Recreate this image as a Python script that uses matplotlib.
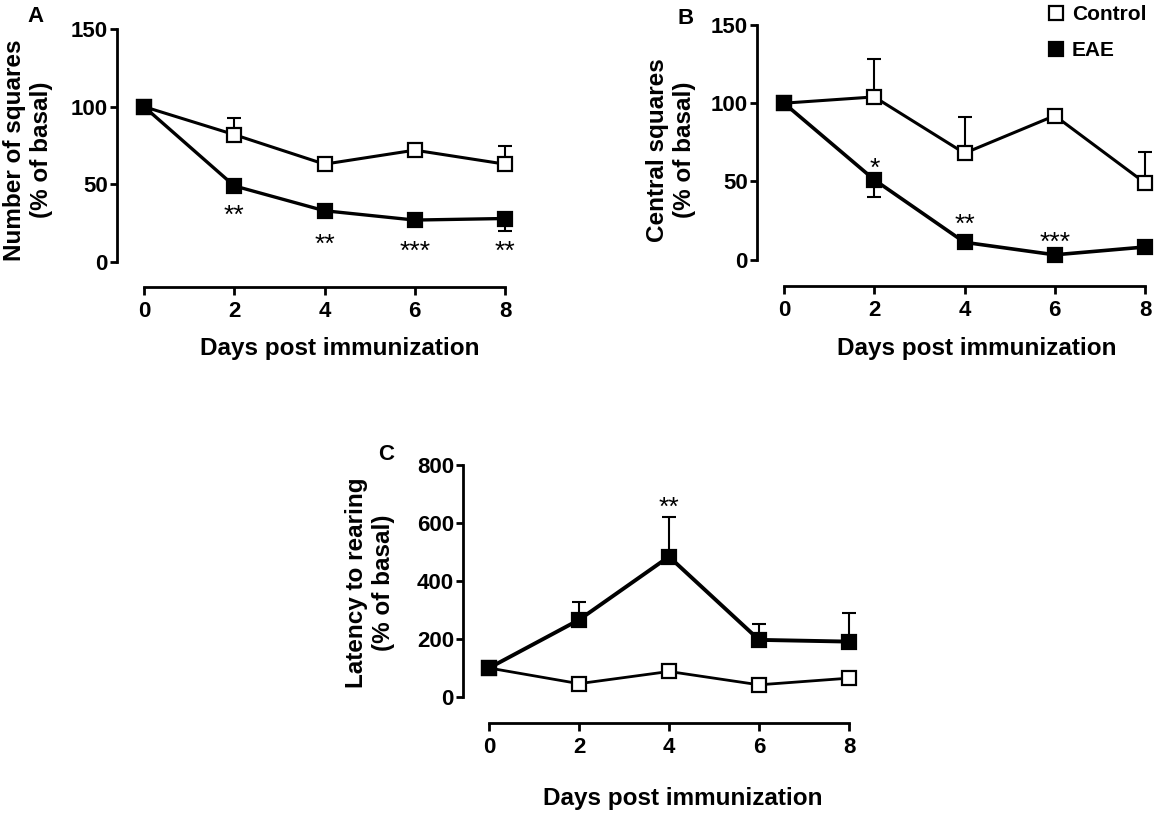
import matplotlib
matplotlib.use('Agg')
import matplotlib.pyplot as plt
from matplotlib.lines import Line2D

plt.rcParams['font.family'] = ['Liberation Sans', 'DejaVu Sans']
plt.rcParams['font.weight'] = 'bold'

# ---------------- data ----------------
days = [0, 2, 4, 6, 8]
day_ticks = [0, 2, 4, 6, 8]

# Panel A: Number of squares (% of basal)
a_ctrl = [100, 82, 63, 72, 63]
a_ctrl_err_lo = [0, 0, 0, 0, 0]
a_ctrl_err_hi = [0, 11, 3, 3, 12]
a_eae = [100, 49, 33, 27, 28]
a_eae_err_lo = [0, 3, 3, 2, 8]
a_eae_err_hi = [0, 0, 0, 0, 0]
a_yticks = [0, 50, 100, 150]
a_stars = [(2, 35, '**'), (4, 16, '**'), (6, 12, '***'), (8, 12, '**')]

# Panel B: Central squares (% of basal)
b_ctrl = [100, 104, 68, 92, 49]
b_ctrl_err_lo = [0, 0, 0, 0, 0]
b_ctrl_err_hi = [0, 24, 23, 2, 20]
b_eae = [100, 51, 11, 3, 8]
b_eae_err_lo = [0, 11, 2, 1, 3]
b_eae_err_hi = [0, 0, 0, 0, 0]
b_yticks = [0, 50, 100, 150]
b_stars = [(2, 63, '*'), (4, 27, '**'), (6, 16, '***')]

# Panel C: Latency to rearing (% of basal)
c_ctrl = [100, 46, 88, 42, 65]
c_ctrl_err_lo = [0, 0, 0, 0, 0]
c_ctrl_err_hi = [0, 4, 4, 4, 4]
c_eae = [100, 266, 484, 197, 191]
c_eae_err_lo = [0, 0, 0, 0, 0]
c_eae_err_hi = [0, 63, 136, 55, 98]
c_yticks = [0, 200, 400, 600, 800]
c_stars = [(4, 680, '**')]

xlabel_text = 'Days post immunization'
series_labels = ['Control', 'EAE']

# ---------------- layout helpers ----------------
W, H = 1158, 818
fig = plt.figure(figsize=(W / 100, H / 100), dpi=100)
PT = 0.72  # points per pixel at 100 dpi

TICK_FS = 16
LABEL_FS = 17.5
STAR_FS = 19
MS = 10.5


def make_axes(L, x0, x8, ytop, ybot, ymax, xaxis_y, yticks, ylabel,
              ylab_px, xlab_px):
    R = x8 + 12
    ax = fig.add_axes([L / W, 1 - ybot / H, (R - L) / W, (ybot - ytop) / H])
    ppu = (x8 - x0) / 8.0
    ax.set_xlim(-(x0 - L) / ppu, 8 + 12 / ppu)
    ax.set_ylim(0, ymax)
    ax.set_facecolor('none')
    for s in ['top', 'right']:
        ax.spines[s].set_visible(False)
    for s in ['left', 'bottom']:
        ax.spines[s].set_linewidth(2.0)
    ax.spines['left'].set_bounds(0, ymax)
    ax.spines['bottom'].set_bounds(0, 8)
    ax.spines['bottom'].set_position(('outward', (xaxis_y - ybot) * PT))
    ax.set_xticks(day_ticks)
    ax.set_yticks(yticks)
    ax.tick_params(axis='y', direction='out', length=5, width=2.0,
                   labelsize=TICK_FS, pad=1.5)
    ax.tick_params(axis='x', direction='out', length=6, width=2.0,
                   labelsize=TICK_FS, pad=4)
    ax.set_xlabel(xlabel_text, fontsize=LABEL_FS, fontweight='bold', va='center')
    ax.xaxis.set_label_coords((xlab_px[0] - L) / (R - L),
                              (ybot - xlab_px[1]) / (ybot - ytop))
    ax.set_ylabel(ylabel, fontsize=LABEL_FS, fontweight='bold', va='center',
                  linespacing=1.2)
    ax.yaxis.set_label_coords((ylab_px[0] - L) / (R - L),
                              (ybot - ylab_px[1]) / (ybot - ytop))
    return ax


def draw(ax, ctrl, c_lo, c_hi, eae, e_lo, e_hi, stars, lw_c, lw_e):
    ax.errorbar(days, ctrl, yerr=[c_lo, c_hi], fmt='none', ecolor='black',
                elinewidth=1.5, capsize=5, capthick=1.5, zorder=2, clip_on=False)
    ax.errorbar(days, eae, yerr=[e_lo, e_hi], fmt='none', ecolor='black',
                elinewidth=1.5, capsize=5, capthick=1.5, zorder=2, clip_on=False)
    ax.plot(days, ctrl, color='black', lw=lw_c, marker='s', ms=MS,
            mfc='white', mec='black', mew=1.6, zorder=3, clip_on=False)
    ax.plot(days, eae, color='black', lw=lw_e, marker='s', ms=MS,
            mfc='black', mec='black', mew=1.6, zorder=4, clip_on=False)
    for d, y, s in stars:
        ax.annotate(s, xy=(d, y), xytext=(0, -0.57 * STAR_FS),
                    textcoords='offset points', ha='center', va='baseline',
                    fontsize=STAR_FS, fontweight='normal', annotation_clip=False)


axA = make_axes(117, 144, 505, 29, 262, 150, 287, a_yticks,
                'Number of squares\n(% of basal)', (28, 150), (339.5, 348))
draw(axA, a_ctrl, a_ctrl_err_lo, a_ctrl_err_hi, a_eae, a_eae_err_lo,
     a_eae_err_hi, a_stars, 2.2, 2.4)

axB = make_axes(757, 784, 1145, 25, 259.5, 150, 286, b_yticks,
                'Central squares\n(% of basal)', (671, 150), (977, 348))
draw(axB, b_ctrl, b_ctrl_err_lo, b_ctrl_err_hi, b_eae, b_eae_err_lo,
     b_eae_err_hi, b_stars, 2.2, 2.6)

axC = make_axes(463, 489, 849, 465, 697, 800, 723, c_yticks,
                'Latency to rearing\n(% of basal)', (370, 583), (683, 799))
draw(axC, c_ctrl, c_ctrl_err_lo, c_ctrl_err_hi, c_eae, c_eae_err_lo,
     c_eae_err_hi, c_stars, 2.0, 2.8)

# panel letters
for txt, (px, py) in zip(['A', 'B', 'C'], [(36, 17), (686, 19), (386, 455)]):
    fig.text(px / W, 1 - py / H, txt, ha='center', va='center',
             fontsize=16, fontweight='bold')

# legend
handles = [Line2D([], [], ls='none', marker='s', ms=MS, mfc='white',
                  mec='black', mew=1.6),
           Line2D([], [], ls='none', marker='s', ms=MS, mfc='black',
                  mec='black', mew=1.6)]
fig.legend(handles, series_labels, loc='upper left',
           bbox_to_anchor=(1047.5 / W, 1 - 5 / H), frameon=False,
           handlelength=0.8, handletextpad=0.37,
           labelspacing=0.84, borderpad=0, borderaxespad=0,
           prop={'weight': 'bold', 'size': 15})

fig.savefig('out.png', dpi=100)
